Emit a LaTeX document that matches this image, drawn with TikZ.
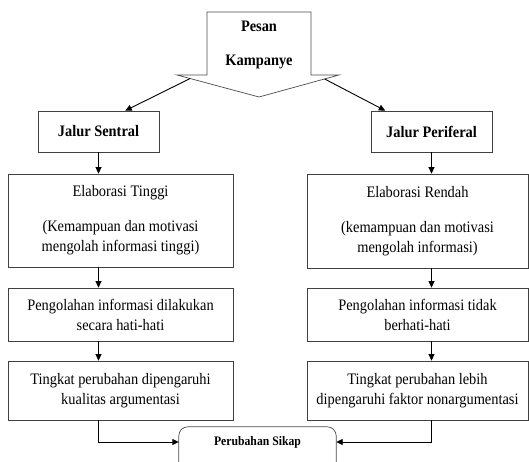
\documentclass[tikz,border=0pt]{standalone}
\usepackage{fontspec}
\setmainfont[FakeStretch=0.9]{Liberation Serif}
\usetikzlibrary{arrows.meta,calc}
\begin{document}
\begin{tikzpicture}[x=1pt,y=-1pt,
  box/.style={draw=black!75, line width=0.7pt, inner sep=0pt, align=center,
    font=\fontsize{16}{20}\selectfont},
  jalur/.style={box, minimum width=121pt, minimum height=41pt,
    font=\bfseries\fontsize{16}{20}\selectfont},
  leftbox/.style={box, minimum width=225pt},
  rightbox/.style={box, minimum width=221pt},
  arr/.style={draw=black, line width=0.9pt, -{Triangle[length=6.5pt,width=6pt]}}]
\useasboundingbox (0,0) rectangle (529,462);
% Pesan Kampanye block arrow
\coordinate (tl0) at (207,12);
\coordinate (tr0) at (311,12);
\coordinate (sr) at (311,75);
\coordinate (rw) at (339,75);
\coordinate (tip) at (259,97);
\coordinate (lw) at (177,75);
\coordinate (sl) at (207,75);
\draw[black!70, line width=0.7pt, fill=white] (tl0) -- (tr0) -- (sr) -- (rw) -- (tip) -- (lw) -- (sl) -- cycle;
\node[font=\bfseries\fontsize{16}{34}\selectfont, align=center] (pk) at (259,45) {Pesan\\Kampanye};
\coordinate (ptl) at ($(lw)!0.16!(tip)$);
\coordinate (ptr) at ($(rw)!0.18!(tip)$);
% left column
\node[jalur] (js) at (98.5,131.5) {Jalur Sentral};
\node[leftbox, minimum height=93pt] (el) at (120.5,220.5)
  {Elaborasi Tinggi\\[15pt](Kemampuan dan motivasi\\mengolah informasi tinggi)};
\node[leftbox, minimum height=53pt] (pl) at (120.5,314.5)
  {Pengolahan informasi dilakukan\\secara hati-hati};
\node[leftbox, minimum height=59pt] (tl) at (120.5,390.5)
  {Tingkat perubahan dipengaruhi\\kualitas argumentasi};
% right column
\node[jalur] (jp) at (431.5,131.5) {Jalur Periferal};
\node[rightbox, minimum height=94pt] (er) at (417.5,221)
  {Elaborasi Rendah\\[15pt](kemampuan dan motivasi\\mengolah informasi)};
\node[rightbox, minimum height=53pt] (pr) at (417.5,314.5)
  {Pengolahan informasi tidak\\berhati-hati};
\node[rightbox, minimum height=59pt] (tr) at (417.5,390.5)
  {Tingkat perubahan lebih\\dipengaruhi faktor nonargumentasi};
% Perubahan Sikap
\node[font=\bfseries\fontsize{13}{15}\selectfont, minimum width=157pt,
  minimum height=30pt, inner sep=0pt] (ps) at (257.5,442) {Perubahan Sikap};
\begin{scope}
\clip (0,0) rectangle (529,462);
\draw[black!70, line width=0.7pt, rounded corners=9pt]
  ([yshift=-30pt]ps.south west) -- (ps.north west) -- (ps.north east) -- ([yshift=-30pt]ps.south east);
\end{scope}
\coordinate (jsin) at ($(js.north west)!0.72!(js.north east)$);
\coordinate (jpin) at ($(jp.north west)!0.12!(jp.north east)$);
% connectors
\draw[arr] (ptl) -- (jsin);
\draw[arr] (ptr) -- (jpin);
\draw[arr] (js.south) -- (js.south |- el.north);
\draw[arr] (el.south -| js.south) -- (pl.north -| js.south);
\draw[arr] (pl.south -| js.south) -- (tl.north -| js.south);
\draw[arr] (tl.south -| js.south) |- (ps.west);
\draw[arr] (jp.south) -- (jp.south |- er.north);
\draw[arr] (er.south -| jp.south) -- (pr.north -| jp.south);
\draw[arr] (pr.south -| jp.south) -- (tr.north -| jp.south);
\draw[arr] (tr.south -| jp.south) |- (ps.east);
\end{tikzpicture}
\end{document}
